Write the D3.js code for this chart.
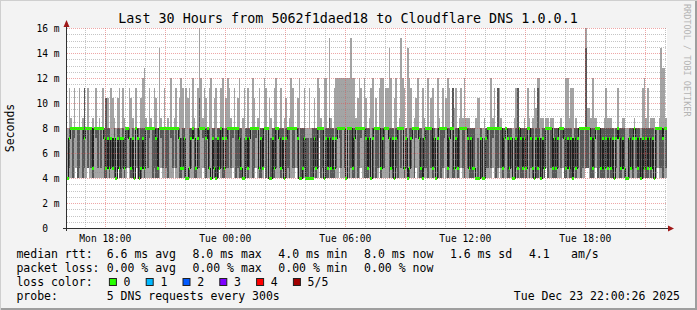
<!DOCTYPE html>
<html>
<head>
<meta charset="utf-8">
<script src="https://cdn.jsdelivr.net/npm/d3@7"></script>
<style>
  body { margin: 0; background: #f3f3f3; }
  text { font-family: "DejaVu Sans Mono", monospace; white-space: pre; }
</style>
</head>
<body>
<svg id="chart"></svg>
<script>
// SmokePing style detail graph: 5 DNS requests every 300s, last 30 hours

const stepSeconds = 300;
const startTime = new Date(2025, 11, 22, 16, 5);
const endTime = new Date(2025, 11, 23, 22, 5);

// sorted pings per step (ms), one row per hour
const minMs = [
  4,4,4,4,4,4.8,4,4,4,4,4,4,
  4.8,4,4,4,4,4,4,4,4,4,4,4,
  4,4,4,4,4,4,4.8,4,4,4,4,4,
  4.8,4,4,4,4,4.8,4,4,4,4,4,4,
  4,4,4,4,4,4,4,4,4.8,4,4,4,
  4,4,4,4,4.8,4,4,4,4,4,4,4,
  4,4,4,4,4,4,4,4,4,4.8,4,4,
  4,4,4,4,4,4,4,4.8,4,4,4,4,
  4,4,4,4.8,4,4,4,4,4,4,4,4,
  4,4,4,4,4,4.8,4,4,4,4,4.8,4,
  4,4,4,4,4,4,4,4,4,4,4,4,
  4,4,4,4,4,4.8,4,4,4,4,4,4,
  4,4,4,4,4,4,4,7.2,4,4,4,4,
  4,4,4,4,4,4,4,4.8,4,4,4,4,
  4,4,4,4,4,4,4,4,4.8,4,4,4,
  4,4,4,4,4,4,4,4.8,4,4,4,4,
  4,4,4,4,4,4,4,4,4,4,4,4,
  4,4,4,4,4,4.8,4,4,4,4,4,4,
  4,4,4,4,4,4,4,4,4,4,4.8,4,
  4,4,4,4,4,4,4,4,4.8,4,4,4,
  4,4,4,4,4,4,4,4,4,4,4,4,
  4,4,4,4.8,4,4,4,4.8,4,4,4,4,
  4,4,4,4,4,4,4,4,4,4,4,4,
  4,4,4,4,4,4,4,4,4,4,4,4.8,
  4,4,4,4,4,4,4,4,4,4.8,4,4,
  4,4,4,4,4,4,4,4,4,4,4,4.8,
  4.8,4,4,4,4,4.8,4,4,4,4,4,4,
  4,4,4,4,4,4,4,4,4,4,4,4,
  4,4,4,4,4,4,4,4,4,4,4,4,
  4,4,4,4,4,4,4.8,4,4,4,4,4
];

const q1Ms = [
  4,4.8,8,4,7.2,8,4,4.8,8,4,4.8,8,
  4.8,8,4.8,4,8,7.2,4.8,8,4.8,8,4,4,
  4.8,4,4.8,4.8,4,4,4.8,4,4,4.8,4,4.8,
  7.2,4.8,4,4,4,8,4.8,4,4,4.8,4,8,
  4.8,7.2,8,4,4.8,4,4,8,7.2,4.8,8,4.8,
  4,8,7.2,4.8,8,4.8,8,4,4,4.8,4,4,
  4,4,4.8,8,4,4,4.8,4.8,8,7.2,4.8,4,
  8,4.8,4,4.8,4,4,4,4.8,4.8,4,4,4.8,
  4.8,8,4.8,7.2,8,4,4.8,4,4,4,4,4.8,
  4,4.8,8,4,4.8,7.2,8,4,4,4.8,8,4,
  8,4,4,4,4,4.8,8,4.8,4,4.8,4,4,
  4.8,4,8,4.8,4.8,8,4.8,4,4,4,4.8,4,
  4,4,4,4,4.8,4,4.8,8,4,4.8,4,4,
  4,4.8,4,4,4,4.8,8,7.2,4.8,8,4.8,4,
  8,4,4.8,4,4,8,4,4.8,7.2,8,4,4,
  4,4.8,4,4,8,4,4.8,8,4,4.8,4.8,8,
  8,4,4.8,4,4,4.8,4,8,4.8,8,4,4.8,
  4,4,4.8,8,4,7.2,8,4,4,4,4.8,4.8,
  4,8,4.8,4,4.8,4,4,8,4,4.8,7.2,8,
  4,4.8,8,4,4,4.8,4,4.8,8,4.8,4,8,
  4.8,4,4,4,4.8,4,4,4,4,4,4,4.8,
  4.8,8,4.8,7.2,8,4,4.8,8,4.8,4,4.8,8,
  4,4,4.8,4,4,4.8,4,4.8,4,4,4.8,4,
  8,4,4.8,4,4,4,4,4.8,4,4.8,4,8,
  4,8,4.8,4,4,4,4.8,8,4.8,7.2,4,4,
  4.8,4,4,4,4.8,4,4.8,8,4,4.8,8,4.8,
  4.8,8,4,4,4.8,8,4,4.8,4,4,4,4.8,
  4,4.8,4,4,4,4.8,8,4,4,4.8,4,4,
  4,4,4.8,4,8,4.8,4,4,4,4,4.8,4,
  4,4.8,4,4.8,4,4.8,8,4.8,4.8,4,8,4.8
];

const medianMs = [
  4,7.2,8,8,8,8,8,8,8,8,7.2,8,
  8,8,8,4.8,8,8,8,8,8,8,7.2,4.8,
  7.2,4.8,7.2,4.8,7.2,4,7.2,4.8,7.2,7.2,4.8,8,
  8,7.2,4.8,7.2,4,8,7.2,4,4.8,7.2,4.8,8,
  8,8,8,8,8,7.2,4.8,8,8,8,8,8,
  8,8,8,8,8,8,8,7.2,4.8,4.8,7.2,4,
  4,4.8,7.2,8,7.2,4.8,7.2,8,8,8,8,7.2,
  8,4.8,4,7.2,4.8,4,7.2,4.8,8,7.2,4.8,7.2,
  8,8,8,8,8,8,8,7.2,4.8,4,4,7.2,
  4.8,7.2,8,8,8,8,8,4.8,7.2,4.8,8,8,
  8,4,4,7.2,4.8,8,8,7.2,4.8,7.2,4,7.2,
  8,8,8,8,8,8,7.2,4,4,4.8,7.2,4,
  4,4,4,4,7.2,4.8,8,8,8,8,4,7.2,
  4.8,7.2,4.8,7.2,4.8,7.2,8,8,8,8,8,4,
  8,8,8,4.8,7.2,8,8,8,8,8,8,7.2,
  4.8,7.2,4,7.2,8,8,8,8,4.8,7.2,8,8,
  8,7.2,4.8,7.2,4,7.2,8,8,8,8,4.8,7.2,
  4,4.8,7.2,8,8,8,8,7.2,4.8,4,7.2,8,
  8,8,8,4.8,7.2,4,7.2,8,8,8,8,8,
  4.8,7.2,8,8,4.8,7.2,4.8,8,8,8,8,8,
  7.2,4.8,7.2,4.8,4.8,4,4,4,7.2,4,4,7.2,
  8,8,8,8,8,8,8,8,8,4.8,7.2,8,
  7.2,4.8,7.2,4,4,7.2,4.8,8,7.2,4.8,7.2,4.8,
  8,8,7.2,4.8,4,7.2,4.8,7.2,4,7.2,4.8,8,
  8,8,8,4.8,7.2,4.8,7.2,8,8,8,7.2,4.8,
  7.2,4.8,7.2,4,7.2,4.8,7.2,8,8,8,8,8,
  8,8,7.2,4.8,7.2,8,8,8,4.8,7.2,4.8,7.2,
  4.8,7.2,4.8,7.2,4,7.2,8,7.2,4.8,7.2,4.8,4,
  4,7.2,4.8,7.2,8,7.2,4.8,7.2,4,7.2,4.8,7.2,
  4.8,7.2,4.8,7.2,4,8,8,8,8,7.2,8,8
];

const q3Ms = [
  4,8,8,8,8,8,8,8,8,8,11.2,8,
  8,8,8,4.8,8,8,8,8,8,8,8,10.4,
  8,8,7.2,7.2,8,4,8,8,7.2,8,7.2,8,
  8,8,7.2,8,4,8,8,7.2,8,8,8,8,
  8,8,8,8,8,8,8,8,8,8,8,8,
  8,8,8,8,8,8,8,8,7.2,8,8,4,
  4,8,8,8,8,4.8,8,10.4,8,8,8,8,
  8,8,4,8,8,7.2,8,8,8,8,4.8,8,
  8,8,8,8,8,8,8,8,8,4,7.2,8,
  8,8,8,8,8,8,8,4.8,8,8,8,8,
  8,4,7.2,8,8,8,8,8,8,8,4,8,
  8,8,8,8,8,8,8,4,8,8,8,7.2,
  7.2,4,7.2,8,8,8,8,8,8,8,4,8,
  8,8.8,8,8,4.8,8,8,8,8,8,8,4,
  8,8,8,8,8,8,8,8,8,8,8,8,
  8,8,4,8,8,8,8,8,8,8,8,8,
  8,8,8,8,4,8,8,8,8,8,4.8,8,
  4,8,8,8,8,8,8,8,8,7.2,8,8,
  8,8,8,8,8,4,8,8,8,8,8,8,
  8,8,8,11.2,4.8,8,8,8,8,8,8,8,
  8,8,8,8,8,4,7.2,4,8,4,7.2,8,
  8,8,8,8,8,8,11.2,8,8,8,8,8,
  8,8,8,4,7.2,8,11.2,8,8,8,8,8,
  8,8,8,8,4,8,11.2,8,7.2,8,8,8,
  8,8,8,4.8,8,8,8,8,8,8,8,8,
  8,8,8,4,8,8,8,8,8,8,8,14.4,
  8,8,8,8,8,8,8,8,8,8,8,8,
  8,8,8,8,4,8,8,8,8,8,8,4,
  4,8,8,8,8,8,8,8,7.2,8,8,8,
  8,8,8,8,4,8,8,8,8,8,8,8
];

const maxMs = [
  8,11.2,8.8,8,11.2,8,8,11.2,8,8.8,11.2,8,
  11.2,8,8,8.8,8,11.2,8,8.8,8,11.2,8,10.4,
  10.4,8,11.2,10.4,8.8,8,10.4,11.2,8,11.2,8.8,8,
  8,11.2,10.4,8.8,8,11.2,8,8,10.4,12,12.8,8.8,
  8,11.2,8.8,8,11.2,10.4,8,14.4,8.8,8,11.2,8,
  8.8,8,12,8,8.8,11.2,8,10.4,12,11.2,8,11.2,
  10.4,11.2,8,12,8.8,8,11.2,16,12,8.8,11.2,10.4,
  8,11.2,12,8,10.4,11.2,8,8,11.2,12,8,10.4,
  12,11.2,8.8,8,11.2,8,10.4,12,8,8.8,11.2,8,
  11.2,8,8,12,10.4,8,8.8,11.2,8,8,12,11.2,
  8,10.4,8.8,8,11.2,12,8,8,11.2,8,8.8,10.4,
  8,8.8,12,11.2,8,8,10.4,12,8,8,11.2,8,
  8,11.2,8,8,10.4,8,12,11.2,8.8,8,12,12,
  8,15.2,8.8,8,11.2,12,12,12,12,12,12,12,
  12,12,15.2,12,12,8.8,10.4,12,11.2,8,12,10.4,
  8,8.8,11.2,12,8,10.4,8,11.2,12,12,8,11.2,
  11.2,14.4,12,8,10.4,12,8,8.8,15.2,12,11.2,8,
  14.4,12,11.2,8,8.8,10.4,12,8,8,11.2,8.8,8,
  12,8,10.4,11.2,8,8,12,8.8,8,11.2,8,10.4,
  12,11.2,8,11.2,9.6,11.2,8,8.8,11.2,8.8,12,8.8,
  8.8,8.8,8,8,8,8.8,10.4,10.4,8,8,8.8,8,
  8,8,12,8.8,11.2,8,11.2,11.2,8.8,8,8,8,
  8,8,8,8,8.8,11.2,11.2,8,8,8,8.8,8,
  11.2,8.8,8,8.8,11.2,9.6,12,12,8.8,8.8,8,8.8,
  8.8,8,8.8,8.8,8,8,8,8,8.8,8,8,12,
  12,8.8,11.2,11.2,8,8.8,8,8,8,8,8,16,
  9.6,9.6,8.8,12,8.8,8.8,8,8,8,8,8.8,11.2,
  8.8,8.8,8.8,8,8,8,11.2,8,8,8.8,8.8,8,
  8,8,8,8,8.8,8,8,8,8,11.2,12,8.8,
  11.2,8,8.8,8.8,8.8,8,8,8.8,14.4,12.8,12.8,8.8
];

const yTicks = [0, 2, 4, 6, 8, 10, 12, 14, 16];
const medianStats = [["6.6", "avg"], ["8.0", "max"], ["4.0", "min"], ["8.0", "now"], ["1.6", "sd"]];
const amPerSecond = "4.1";
const lossStats = [["0.00", "avg"], ["0.00", "max"], ["0.00", "min"], ["0.00", "now"]];
const lossLabels = ["0", "1", "2", "3", "4", "5/5"];
const lossColors = ["#26ff00", "#00b8ff", "#0059ff", "#7e00ff", "#ff0000", "#a10000"];

const width = 697, height = 310;
const svg = d3.select("#chart").attr("width", width).attr("height", height);

svg.append("rect").attr("width", width).attr("height", height).attr("fill", "#f3f3f3");
// 3d frame
svg.append("path").attr("d", `M0,${height} V0 H${width}`).attr("fill", "none")
  .attr("stroke", "#cfcfcf").attr("stroke-width", 2);
svg.append("path").attr("d", `M1,${height - 1} H${width - 1} V1`).attr("fill", "none")
  .attr("stroke", "#9e9e9e").attr("stroke-width", 2);

const x = d3.scaleTime().domain([startTime, endTime]).range([67, 667]);
const y = d3.scaleLinear().domain([0, 16]).range([228, 28]);

svg.append("rect").attr("x", 67).attr("y", 28).attr("width", 600).attr("height", 200).attr("fill", "#fff");

const steps = medianMs.map((m, i) => ({
  t: new Date(+startTime + i * stepSeconds * 1000),
  lo: minMs[i], q1: q1Ms[i], med: m, q3: q3Ms[i], hi: maxMs[i]
}));
steps.push({ ...steps[steps.length - 1], t: endTime });

const plot = svg.append("g").attr("shape-rendering", "crispEdges");

const band = (a, b) => d3.area().curve(d3.curveStepAfter)
  .x(d => x(d.t)).y0(d => y(d[a])).y1(d => y(d[b]));

plot.append("path").attr("d", band("lo", "hi")(steps)).attr("fill", "#a4a4a4");
plot.append("path").attr("d", band("q1", "q3")(steps)).attr("fill", "#585858");

plot.append("path")
  .attr("d", d3.line().curve(d3.curveStepAfter).x(d => x(d.t)).y(d => y(d.med))(steps))
  .attr("fill", "none").attr("stroke", "#202020").attr("stroke-width", 1);

// loss colour marker around the median (no loss -> first colour)
plot.append("path")
  .attr("d", d3.area().curve(d3.curveStepAfter).x(d => x(d.t))
    .y0(d => y(d.med) + 1.5).y1(d => y(d.med) - 1.5)(steps))
  .attr("fill", lossColors[0]);

// grid on top
const grid = svg.append("g").attr("fill", "none").attr("stroke-dasharray", "1,1");
d3.range(0, 16.01, 0.5).forEach(v => {
  const yy = Math.round(y(v)) + 0.5;
  grid.append("line").attr("x1", 67).attr("x2", 667).attr("y1", yy).attr("y2", yy)
    .attr("stroke", v % 2 === 0 ? "rgba(222,80,80,0.5)" : "rgba(140,140,140,0.5)");
});
d3.timeHour.range(startTime, endTime).forEach(t => {
  const xx = Math.round(x(t)) + 0.5;
  grid.append("line").attr("x1", xx).attr("x2", xx).attr("y1", 28).attr("y2", 228)
    .attr("stroke", t.getHours() % 3 === 0 ? "rgba(222,80,80,0.5)" : "rgba(140,140,140,0.5)");
});

// axes
svg.append("line").attr("x1", 66.5).attr("x2", 66.5).attr("y1", 231).attr("y2", 26)
  .attr("stroke", "#303030");
svg.append("line").attr("x1", 63).attr("x2", 669).attr("y1", 228.5).attr("y2", 228.5)
  .attr("stroke", "#303030");
svg.append("path").attr("d", "M63.5,27 L69.5,27 L66.5,20 Z").attr("fill", "#a01818");
svg.append("path").attr("d", "M668,225.5 L668,231.5 L674,228.5 Z").attr("fill", "#a01818");

svg.append("g").selectAll("text").data(yTicks).join("text")
  .attr("x", 59.5).attr("y", d => y(d) + 3.5)
  .attr("text-anchor", "end").attr("font-size", "9.6px").attr("fill", "#000")
  .text(d => d === 0 ? "0  " : `${d} m`);

const xLabelTimes = d3.timeHour.range(startTime, endTime).filter(t => t.getHours() % 6 === 0);
svg.append("g").selectAll("text").data(xLabelTimes).join("text")
  .attr("x", d => x(d)).attr("y", 241.5)
  .attr("text-anchor", "middle").attr("font-size", "9.6px").attr("fill", "#000")
  .text(d3.timeFormat("%a %H:%M"));

svg.append("text").attr("x", 348).attr("y", 23).attr("text-anchor", "middle")
  .attr("font-size", "13.4px").attr("fill", "#000")
  .text("Last 30 Hours from 5062f1daed18 to Cloudflare DNS 1.0.0.1");

svg.append("text").attr("transform", "translate(14,128) rotate(-90)")
  .attr("text-anchor", "middle").attr("font-size", "11.5px").attr("fill", "#000")
  .text("Seconds");

svg.append("text").attr("transform", "translate(684,4) rotate(90)")
  .attr("font-size", "8.5px").attr("fill", "#b4b4b4")
  .text("RRDTOOL / TOBI OETIKER");

// legend
const legend = svg.append("g").attr("font-size", "11.5px").attr("fill", "#000");
const colX = i => 106.7 + i * 85.8;

legend.append("text").attr("x", 16.4).attr("y", 258.3).text("median rtt:");
medianStats.forEach(([v, k], i) => {
  legend.append("text").attr("x", colX(i)).attr("y", 258.3).text(`${v} ms ${k}`);
});
legend.append("text").attr("x", 528.9).attr("y", 258.3).text(amPerSecond);
legend.append("text").attr("x", 571.1).attr("y", 258.3).text("am/s");

legend.append("text").attr("x", 16.4).attr("y", 271.8).text("packet loss:");
lossStats.forEach(([v, k], i) => {
  legend.append("text").attr("x", colX(i)).attr("y", 271.8).text(`${v} % ${k}`);
});

legend.append("text").attr("x", 16.4).attr("y", 285.5).text("loss color:");
lossLabels.forEach((lab, i) => {
  const bx = 108.9 + i * 36.8;
  legend.append("rect").attr("x", bx + 0.5).attr("y", 278.5).attr("width", 7).attr("height", 7)
    .attr("fill", lossColors[i]).attr("stroke", "#202020").attr("stroke-width", 1);
  legend.append("text").attr("x", bx + 14.7).attr("y", 285.5).text(lab);
});

legend.append("text").attr("x", 16.4).attr("y", 299.8).text("probe:");
legend.append("text").attr("x", 106.7).attr("y", 299.8).text("5 DNS requests every 300s");
legend.append("text").attr("x", 680).attr("y", 299.8).attr("text-anchor", "end")
  .text("Tue Dec 23 22:00:26 2025");
</script>
</body>
</html>
